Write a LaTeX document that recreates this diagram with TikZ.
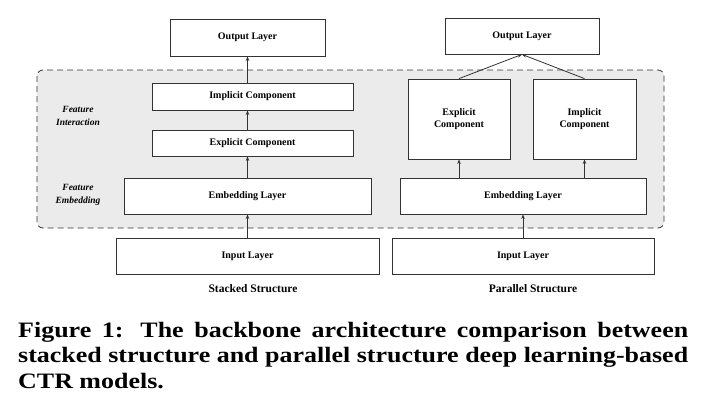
\documentclass[tikz,border=0pt]{standalone}
\usepackage{fontspec}
\setmainfont{Liberation Serif}
\newfontfamily\capfont[FakeStretch=1.18]{Liberation Serif}
\usetikzlibrary{arrows.meta}
\definecolor{edge}{HTML}{333333}
\definecolor{panel}{HTML}{EBEBEB}
\tikzset{
  box/.style={draw=edge, line width=0.8pt, fill=white, inner sep=0pt, align=center,
    font=\fontsize{10}{12}\selectfont\bfseries},
  arr/.style={draw=edge, line width=0.8pt, -{Stealth[length=4.5pt,width=3.5pt]}},
  sidelab/.style={align=center, font=\fontsize{9.5}{13}\selectfont\bfseries\itshape},
  structlab/.style={font=\fontsize{11.5}{13}\selectfont\bfseries},
  capline/.style={anchor=base west, inner sep=0pt, font=\capfont\fontsize{22}{25}\selectfont\bfseries}
}
\begin{document}
\begin{tikzpicture}[x=1pt,y=-1pt]
\useasboundingbox (0,0) rectangle (702,413);
% dashed panel
\draw[draw=edge, fill=panel, dashed, dash pattern=on 6pt off 4pt, line width=0.8pt, rounded corners=6pt]
  (37,70) rectangle (664,228);
% left (stacked)
\node[box, minimum width=155pt, minimum height=37pt] (LOut) at (247.5,37.5) {Output Layer};
\node[box, minimum width=201pt, minimum height=27pt] (LImp) at (252.5,96.5) {Implicit Component};
\node[box, minimum width=201pt, minimum height=26pt] (LExp) at (252.5,143) {Explicit Component};
\node[box, minimum width=247pt, minimum height=36pt] (LEmb) at (247.5,196) {Embedding Layer};
\node[box, minimum width=263pt, minimum height=36pt] (LIn) at (247.5,256) {Input Layer};
% right (parallel)
\node[box, minimum width=154pt, minimum height=36pt] (ROut) at (522,36) {Output Layer};
\node[box, minimum width=102pt, minimum height=80pt] (RExp) at (459,119) {Explicit\\Component};
\node[box, minimum width=103pt, minimum height=80pt] (RImp) at (584.5,119) {Implicit\\Component};
\node[box, minimum width=246pt, minimum height=36pt] (REmb) at (523,196) {Embedding Layer};
\node[box, minimum width=262pt, minimum height=36pt] (RIn) at (523,256) {Input Layer};
% side labels
\node[sidelab] (FI) at (78,115.5) {Feature\\Interaction};
\node[sidelab] (FE) at (78,195) {Feature\\Embedding};
% structure labels
\node[structlab] (SS) at (253,289) {Stacked Structure};
\node[structlab] (PS) at (533,289) {Parallel Structure};
% arrows left
\draw[arr] (LIn.north) -- (LEmb.south);
\draw[arr] (LEmb.north) -- (LEmb.north |- LExp.south);
\draw[arr] (LEmb.north |- LExp.north) -- (LEmb.north |- LImp.south);
\draw[arr] (LEmb.north |- LImp.north) -- (LOut.south);
% arrows right
\draw[arr] (RIn.north) -- (REmb.south);
\draw[arr] (RExp.south |- REmb.north) -- (RExp.south);
\draw[arr] (RImp.south |- REmb.north) -- (RImp.south);
\draw[arr] (RExp.north) -- (ROut.south);
\draw[arr] (RImp.north) -- (ROut.south);
% caption
\node[capline] (C1) at (18,337) {\hbox to 670pt{Figure 1: The backbone architecture comparison between}};
\node[capline] (C2) at (18,362.5) {\hbox to 670pt{stacked structure and parallel structure deep learning-based}};
\node[capline] (C3) at (18,388) {CTR models.};
\end{tikzpicture}
\end{document}
